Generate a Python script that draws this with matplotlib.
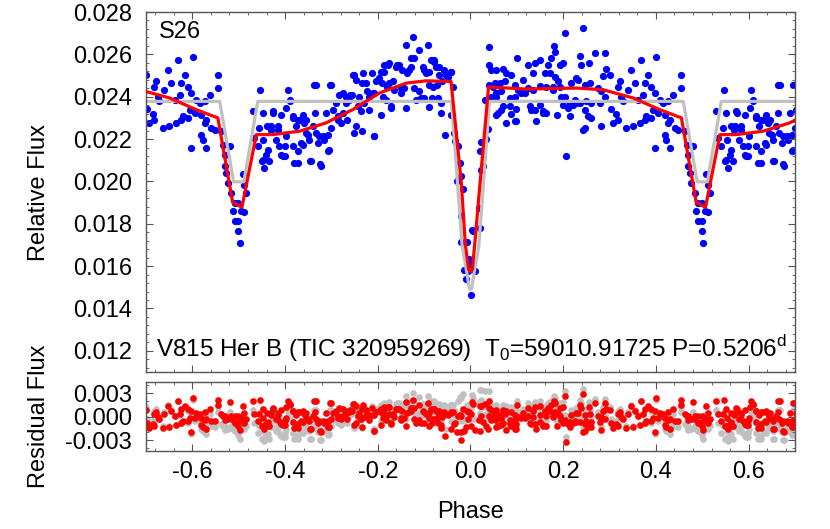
import numpy as np
import matplotlib
matplotlib.use("Agg")
import matplotlib.pyplot as plt
from matplotlib.ticker import MultipleLocator, AutoMinorLocator, FormatStrFormatter

plt.rcParams['font.family'] = ['Liberation Sans', 'DejaVu Sans']
plt.rcParams['font.size'] = 17
plt.rcParams['axes.unicode_minus'] = False

# --------------------------------------------------
# observed points, base phase range [-0.5, 0.5)  (phase, relative flux)
# --------------------------------------------------
obs_secondary = [
    (0.4731, 0.02040), (0.4767, 0.01993), (0.4839, 0.01946), (0.4875, 0.01860),
    (0.4911, 0.01899), (0.4911, 0.01812), (0.4984, 0.01899), (0.4984, 0.01812),
    (0.4984, 0.01765), (0.4695, 0.02071), (0.4695, 0.02127), (0.4660, 0.02174),
    (0.4803, 0.02166), (0.4623, 0.02236),
    (-0.4981, 0.01707), (-0.4944, 0.01860), (-0.4876, 0.01856), (-0.4839, 0.01947),
    (-0.4876, 0.01982), (-0.4910, 0.02033),
]

obs_after_sec = [
    (-0.4660, 0.02206), (-0.4695, 0.02331), (-0.4552, 0.02253), (-0.4587, 0.02166),
    (-0.4500, 0.02095), (-0.4444, 0.02064), (-0.4479, 0.02323), (-0.4530, 0.02430),
    (-0.4407, 0.02127), (-0.4336, 0.02095), (-0.4472, 0.02197), (-0.4380, 0.02260),
    (-0.4306, 0.02244), (-0.4256, 0.02323), (-0.4200, 0.02197), (-0.4127, 0.02166),
    (-0.4163, 0.02263), (-0.4055, 0.02118), (-0.3982, 0.02213), (-0.3947, 0.02433),
    (-0.3896, 0.02386), (-0.3839, 0.02307), (-0.3766, 0.02260), (-0.3802, 0.02087),
    (-0.3730, 0.02142), (-0.3622, 0.02174), (-0.3694, 0.02291), (-0.3586, 0.02276),
    (-0.3550, 0.02229), (-0.3478, 0.02197), (-0.3442, 0.02095), (-0.3370, 0.02456),
    (-0.3406, 0.02260), (-0.3334, 0.02229), (-0.3226, 0.02075), (-0.3262, 0.02213),
    (-0.3154, 0.02197), (-0.3118, 0.02323), (-0.3010, 0.02456), (-0.3046, 0.02150),
    (-0.4263, 0.02331), (-0.4083, 0.02315), (-0.3904, 0.02378), (-0.3975, 0.02346),
    (-0.3830, 0.02300), (-0.3723, 0.02291), (-0.3615, 0.02315), (-0.3543, 0.02291),
    (-0.3364, 0.02323), (-0.4155, 0.02244), (-0.4300, 0.02260), (-0.4012, 0.02166),
    (-0.3830, 0.02166), (-0.3651, 0.02182), (-0.3506, 0.02221), (-0.3290, 0.02182),
    (-0.3182, 0.02213), (-0.3074, 0.02221), (-0.3003, 0.02252), (-0.4372, 0.02150),
    (-0.4479, 0.02103), (-0.4083, 0.02127), (-0.4012, 0.02118), (-0.3723, 0.02087),
    (-0.3470, 0.02095), (-0.3256, 0.02080), (-0.3074, 0.02142), (-0.3327, 0.02456),
    (-0.3040, 0.02456),
]

obs_before_prim = [
    (-0.2975, 0.02338), (-0.2902, 0.02370), (-0.2830, 0.02410), (-0.2759, 0.02417),
    (-0.2867, 0.02307), (-0.2794, 0.02276), (-0.2686, 0.02400), (-0.2614, 0.02386),
    (-0.2543, 0.02503), (-0.2469, 0.02480), (-0.2435, 0.02354), (-0.2362, 0.02331),
    (-0.2327, 0.02511), (-0.2253, 0.02464), (-0.2182, 0.02400), (-0.2111, 0.02417),
    (-0.2074, 0.02213), (-0.2037, 0.02472), (-0.1966, 0.02488), (-0.1895, 0.02400),
    (-0.1822, 0.02386), (-0.1858, 0.02519), (-0.1787, 0.02550), (-0.1750, 0.02464),
    (-0.1679, 0.02472), (-0.1714, 0.02354), (-0.1605, 0.02542), (-0.1534, 0.02550),
    (-0.1497, 0.02417), (-0.1426, 0.02440), (-0.1390, 0.02645), (-0.1246, 0.02684),
    (-0.1318, 0.02527), (-0.1281, 0.02582), (-0.1210, 0.02582), (-0.1102, 0.02621),
    (-0.0922, 0.02645), (-0.1173, 0.02386), (-0.1065, 0.02394), (-0.1030, 0.02542),
    (-0.0957, 0.02511), (-0.0849, 0.02574), (-0.0778, 0.02566), (-0.0886, 0.02456),
    (-0.0814, 0.02448), (-0.0741, 0.02542), (-0.0670, 0.02503), (-0.0706, 0.02394),
    (-0.0633, 0.02370), (-0.0562, 0.02527), (-0.0490, 0.02495), (-0.0540, 0.02221),
    (-0.0417, 0.02519), (-0.0382, 0.02448),
    (-0.2858, 0.02291), (-0.2750, 0.02323), (-0.2679, 0.02370), (-0.2608, 0.02410),
    (-0.2513, 0.02503), (-0.2333, 0.02464), (-0.2117, 0.02511), (-0.1938, 0.02519),
    (-0.1865, 0.02550), (-0.1756, 0.02558), (-0.1577, 0.02550), (-0.1469, 0.02527),
    (-0.1361, 0.02511), (-0.1289, 0.02542), (-0.1000, 0.02527), (-0.0892, 0.02519),
    (-0.0784, 0.02574), (-0.0676, 0.02542), (-0.0533, 0.02503), (-0.0425, 0.02519),
    (-0.2549, 0.02410), (-0.2405, 0.02400), (-0.2225, 0.02425), (-0.2081, 0.02417),
    (-0.1901, 0.02464), (-0.1793, 0.02448), (-0.1649, 0.02433), (-0.1506, 0.02440),
    (-0.1216, 0.02440), (-0.1108, 0.02425), (-0.1000, 0.02394), (-0.0820, 0.02394),
    (-0.0713, 0.02456), (-0.0605, 0.02472), (-0.2298, 0.02370), (-0.2189, 0.02338),
    (-0.1938, 0.02315), (-0.1722, 0.02346), (-0.1398, 0.02346), (-0.0892, 0.02351),
    (-0.0642, 0.02323), (-0.2657, 0.02291), (-0.2478, 0.02260), (-0.2333, 0.02236),
    (-0.2081, 0.02213), (-0.2513, 0.02229),
]

obs_primary = [
    (-0.0425, 0.02315), (-0.0352, 0.02229), (-0.0324, 0.02189), (-0.0274, 0.02166),
    (-0.0230, 0.02087), (-0.0210, 0.02024), (-0.0290, 0.02001), (-0.0160, 0.01962),
    (-0.0213, 0.01836), (-0.0205, 0.01715), (-0.0075, 0.01712), (0.0028, 0.01770),
    (-0.0022, 0.01632), (0.0014, 0.01608), (-0.0130, 0.01582), (-0.0058, 0.01577),
    (0.0108, 0.01577), (-0.0093, 0.01541), (0.0014, 0.01464), (0.0050, 0.01766),
    (0.0195, 0.01781), (0.0180, 0.01876), (0.0231, 0.02056), (0.0266, 0.02071),
    (0.0216, 0.02145), (0.0231, 0.02185), (0.0339, 0.02200), (0.0374, 0.02248),
    (0.0303, 0.02386),
]

obs_after_prim = [
    (0.0410, 0.02456), (0.0519, 0.02464), (0.0590, 0.02323), (0.0663, 0.02338),
    (0.0757, 0.02276), (0.0843, 0.02354), (0.0987, 0.02342), (0.0973, 0.02283),
    (0.0389, 0.02637), (0.0410, 0.02550), (0.0447, 0.02527), (0.0555, 0.02527),
    (0.0698, 0.02530), (0.0482, 0.02448), (0.0627, 0.02467), (0.0735, 0.02472),
    (0.0555, 0.02400), (0.0663, 0.02425), (0.0771, 0.02511), (0.0879, 0.02503),
    (0.0555, 0.02315), (0.0951, 0.02283), (0.0879, 0.02320), (0.1008, 0.02582),
    (0.0951, 0.02456), (0.1022, 0.02433), (0.1131, 0.02480), (0.1238, 0.02550),
    (0.1167, 0.02417), (0.1275, 0.02354), (0.1311, 0.02338), (0.1346, 0.02511),
    (0.1383, 0.02558), (0.1491, 0.02574), (0.1419, 0.02283), (0.1491, 0.02362),
    (0.1562, 0.02331), (0.1599, 0.02511), (0.1670, 0.02550), (0.1635, 0.02323),
    (0.1743, 0.02582), (0.1800, 0.02640), (0.1815, 0.02613), (0.1707, 0.02511),
    (0.1815, 0.02495), (0.1778, 0.02448), (0.1886, 0.02472), (0.1923, 0.02550),
    (0.1994, 0.02558), (0.1959, 0.02400), (0.1872, 0.02315), (0.2031, 0.02400),
    (0.2102, 0.02346), (0.2067, 0.02118), (0.2031, 0.02700), (0.2139, 0.02307),
    (0.2211, 0.02362), (0.2284, 0.02370), (0.2175, 0.02464), (0.2284, 0.02488),
    (0.2355, 0.02590), (0.2391, 0.02550), (0.2427, 0.02723), (0.2427, 0.02244),
    (0.2320, 0.02480), (0.2463, 0.02456), (0.2463, 0.02338),
    (0.0447, 0.02400), (0.0555, 0.02417), (0.0843, 0.02394), (0.0951, 0.02400),
    (0.1095, 0.02417), (0.1238, 0.02440), (0.1346, 0.02433), (0.1491, 0.02452),
    (0.1635, 0.02445), (0.1778, 0.02433), (0.1923, 0.02448), (0.1994, 0.02362),
    (0.2139, 0.02370), (0.2247, 0.02386), (0.2355, 0.02370), (0.1383, 0.02338),
    (0.1562, 0.02323), (0.0698, 0.02354),
]

obs_before_sec = [
    (0.2679, 0.02605), (0.2895, 0.02605), (0.2550, 0.02561), (0.2932, 0.02530),
    (0.3003, 0.02503), (0.2859, 0.02498), (0.2571, 0.02464), (0.2751, 0.02440),
    (0.2824, 0.02425), (0.2895, 0.02400), (0.2500, 0.02378), (0.2608, 0.02370),
    (0.2787, 0.02370), (0.3025, 0.02342), (0.3147, 0.02320), (0.2535, 0.02307),
    (0.2608, 0.02300), (0.2824, 0.02263), (0.3075, 0.02276), (0.3183, 0.02291),
    (0.2463, 0.02252), (0.3219, 0.02472), (0.3183, 0.02448), (0.3256, 0.02400),
    (0.3291, 0.02378), (0.3363, 0.02252), (0.3507, 0.02260), (0.3472, 0.02527),
    (0.3543, 0.02464), (0.3399, 0.02433), (0.3687, 0.02574), (0.3615, 0.02386),
    (0.3723, 0.02410), (0.3651, 0.02276), (0.3759, 0.02291), (0.3796, 0.02307),
    (0.3904, 0.02300), (0.3759, 0.02464), (0.3904, 0.02448), (0.3831, 0.02503),
    (0.4012, 0.02586), (0.3975, 0.02417), (0.4083, 0.02386), (0.3939, 0.02338),
    (0.4047, 0.02323), (0.4155, 0.02370), (0.4263, 0.02378), (0.4191, 0.02315),
    (0.4299, 0.02291), (0.4371, 0.02410), (0.4552, 0.02503), (0.4552, 0.02440),
    (0.4263, 0.02276), (0.4407, 0.02252), (0.4191, 0.02221), (0.4228, 0.02197),
    (0.3975, 0.02158), (0.4299, 0.02158), (0.4479, 0.02244),
]

# model with spots (red) and without (gray), nodes over one cycle
red_phase = [-0.500, -0.493, -0.462, -0.427, -0.369, -0.312, -0.254, -0.197, -0.139,
             -0.096, -0.042, -0.020, -0.011, -0.004, 0.000, 0.004, 0.009, 0.021,
             0.039, 0.120, 0.228, 0.286, 0.351, 0.408, 0.455, 0.487, 0.500]
red_flux = [0.01886, 0.01878, 0.02221, 0.02221, 0.02237, 0.02276, 0.02339, 0.02417, 0.02464,
            0.02475, 0.02472, 0.02000, 0.01700, 0.01585, 0.01575, 0.01585, 0.01700, 0.02000,
            0.02446, 0.02436, 0.02441, 0.02433, 0.02394, 0.02339, 0.02300, 0.01900, 0.01886]

gray_phase = [-0.500, -0.489, -0.459, -0.041, -0.018, -0.008, -0.003, 0.000,
              0.003, 0.008, 0.018, 0.041, 0.459, 0.489, 0.500]
gray_flux = [0.01998, 0.01998, 0.02378, 0.02378, 0.01695, 0.01570, 0.01500, 0.01490,
             0.01500, 0.01570, 0.01695, 0.02378, 0.02378, 0.01998, 0.01998]

xticks = [-0.6, -0.4, -0.2, 0.0, 0.2, 0.4, 0.6]

# --------------------------------------------------
# fold and wrap onto -0.7 .. 0.7
# --------------------------------------------------
obs = np.array(obs_secondary + obs_after_sec + obs_before_prim + obs_primary
               + obs_after_prim + obs_before_sec)
ph, fl = obs[:, 0], obs[:, 1]
red_phase, red_flux = np.array(red_phase), np.array(red_flux)
gray_phase, gray_flux = np.array(gray_phase), np.array(gray_flux)

res_red = fl - np.interp(ph, red_phase, red_flux)
res_gray = fl - np.interp(ph, gray_phase, gray_flux)


def wrap(p, *vals, cut=0.29):
    lo = p > cut
    hi = p < -cut
    out_p = np.concatenate([p[lo] - 1, p, p[hi] + 1])
    return [out_p] + [np.concatenate([v[lo], v, v[hi]]) for v in vals]


ph_w, fl_w, rr_w, rg_w = wrap(ph, fl, res_red, res_gray)
rp_w, rf_w = wrap(red_phase, red_flux, cut=0.0)
gp_w, gf_w = wrap(gray_phase, gray_flux, cut=0.0)

# --------------------------------------------------
# plotting
# --------------------------------------------------
fig = plt.figure(figsize=(8.3, 5.29), dpi=100)
ax = fig.add_axes([0.1759, 0.2968, 0.7819, 0.6805])
ax2 = fig.add_axes([0.1759, 0.1474, 0.7819, 0.1304])

edge = '#555555'
ax.plot(ph_w, fl_w, 'o', color='#0000ff', ms=5.2, mew=0, zorder=1)
ax.plot(gp_w, gf_w, color='#c0c0c0', lw=2.3, zorder=2)
ax.plot(rp_w, rf_w, color='#ff0000', lw=2.3, zorder=3)

ax.set_xlim(-0.7, 0.7)
ax.set_ylim(0.011, 0.028)
ax.yaxis.set_major_locator(MultipleLocator(0.002))
ax.yaxis.set_major_formatter(FormatStrFormatter('%.3f'))
ax.yaxis.set_minor_locator(AutoMinorLocator(5))
ax.set_ylabel('Relative Flux')
ax.yaxis.set_label_coords(-0.148, 0.5)
ax.tick_params(labelbottom=False)

ax.text(0.02, 0.975, 'S26', transform=ax.transAxes, va='top', ha='left')
ax.text(0.016, 0.022,
        r'V815 Her B (TIC 320959269)  T$_\mathregular{0}$=59010.91725 P=0.5206$^\mathregular{d}$',
        transform=ax.transAxes, va='bottom', ha='left', fontsize=17.5)

ax2.plot(ph_w, rg_w, 'o', color='#c0c0c0', ms=4.8, mew=0, zorder=1)
ax2.plot(ph_w, rr_w, 'o', color='#ff0000', ms=4.8, mew=0, zorder=2)
ax2.set_xlim(-0.7, 0.7)
ax2.set_ylim(-0.0044, 0.0044)
ax2.set_yticks([-0.003, 0.0, 0.003])
ax2.yaxis.set_major_formatter(FormatStrFormatter('%.3f'))
ax2.yaxis.set_minor_locator(AutoMinorLocator(3))
ax2.set_ylabel('Residual Flux')
ax2.yaxis.set_label_coords(-0.148, 0.5)
ax2.set_xlabel('Phase')
ax2.xaxis.set_label_coords(0.5, -0.72)

for a in (ax, ax2):
    a.set_xticks(xticks)
    a.xaxis.set_major_formatter(FormatStrFormatter('%.1f'))
    a.xaxis.set_minor_locator(AutoMinorLocator(5))
    a.tick_params(which='both', direction='in', top=True, right=True, color=edge)
    a.tick_params(which='major', length=5, width=0.8)
    a.tick_params(which='minor', length=2.5, width=0.6)
    a.tick_params(axis='y', pad=10)
    a.tick_params(axis='x', pad=7)
    for s in a.spines.values():
        s.set_color(edge)
        s.set_linewidth(1.0)

fig.savefig('out.png', dpi=100)
